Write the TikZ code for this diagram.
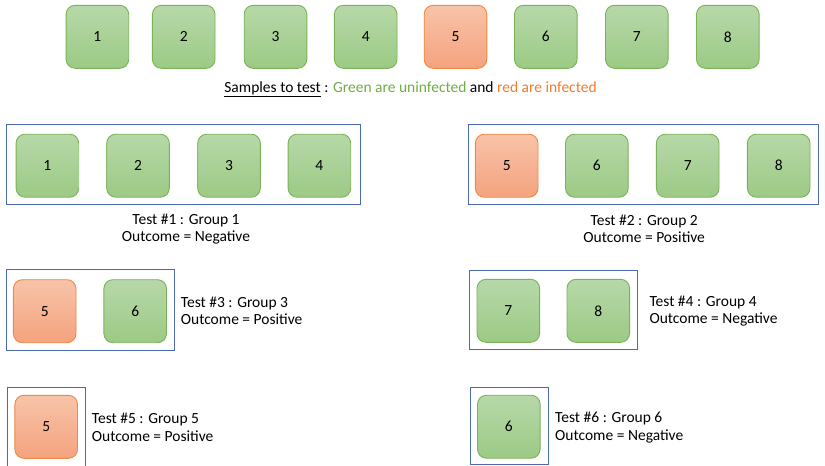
\documentclass[tikz,border=0pt]{standalone}
\usepackage{fontspec}
\setmainfont{Carlito}
\usetikzlibrary{shapes.misc}
\definecolor{gtop}{HTML}{B7D8A9}
\definecolor{gbot}{HTML}{9CCA85}
\definecolor{gline}{HTML}{7CB257}
\definecolor{otop}{HTML}{F8C3A9}
\definecolor{obot}{HTML}{F4A37E}
\definecolor{oline}{HTML}{EE8843}
\definecolor{gtext}{HTML}{70AD47}
\definecolor{otext}{HTML}{ED7D31}
\definecolor{grpline}{HTML}{4A6BB3}
\tikzset{
  sample/.style={rounded corners=9pt, minimum width=62.6pt, minimum height=63pt,
    inner sep=0pt, line width=0.9pt, font=\fontsize{15.5}{17.6}\selectfont},
  gbox/.style={sample, draw=gline, top color=gtop, bottom color=gbot},
  obox/.style={sample, draw=oline, top color=otop, bottom color=obot},
  grp/.style={draw=grpline, line width=1pt},
  lbl/.style={font=\fontsize{15.5}{17.6}\selectfont, inner sep=0pt},
}
\begin{document}
\begin{tikzpicture}[x=1pt,y=-1pt]
\useasboundingbox (0,0) rectangle (825,466);
\clip (0,0) rectangle (825,466);
\fill[white] (0,0) rectangle (825,466);
% top row
\node[gbox] (s1) at (97.4,36.8) {1};
\node[gbox] (s2) at (183.7,36.8) {2};
\node[gbox] (s3) at (275.5,36.8) {3};
\node[gbox] (s4) at (365.7,36.8) {4};
\node[obox] (s5) at (455.5,36.8) {5};
\node[gbox] (s6) at (545.8,36.8) {6};
\node[gbox] (s7) at (636.8,36.8) {7};
\node[gbox] (s8) at (727.8,36.8) {8};
\node[lbl] (cap) at (410.5,89) {\underline{Samples to test} : \textcolor{gtext}{Green are uninfected} and \textcolor{otext}{red are infected}};
% group 1
\draw[grp] (6.5,124.5) rectangle (360.5,204.5);
\node[gbox] (a1) at (47.4,165.7) {1};
\node[gbox] (a2) at (138,165.7) {2};
\node[gbox] (a3) at (229,165.7) {3};
\node[gbox] (a4) at (319.4,165.7) {4};
\node[lbl, align=center] (l1) at (186,229) {Test \#1 : Group 1\\Outcome = Negative};
% group 2
\draw[grp] (468.5,124.5) rectangle (818.5,204.5);
\node[obox] (b5) at (506.7,165.7) {5};
\node[gbox] (b6) at (596.8,165.7) {6};
\node[gbox] (b7) at (687.7,165.7) {7};
\node[gbox] (b8) at (778.7,165.7) {8};
\node[lbl, align=center] (l2) at (644.2,229) {Test \#2 : Group 2\\Outcome = Positive};
% group 3
\draw[grp] (6.5,269.5) rectangle (174.5,350.5);
\node[obox] (c5) at (44.7,311.2) {5};
\node[gbox] (c6) at (135.2,311.2) {6};
\node[lbl, align=left, anchor=west] (l3) at (180.7,311) {Test \#3 : Group 3\\Outcome = Positive};
% group 4
\draw[grp] (469.5,270.5) rectangle (637.5,349.5);
\node[gbox] (d7) at (508.3,310.8) {7};
\node[gbox] (d8) at (598.3,310.8) {8};
\node[lbl, align=left, anchor=west] (l4) at (649.3,311) {Test \#4 : Group 4\\Outcome = Negative};
% group 5
\draw[grp] (7.5,387.5) rectangle (85.5,475);
\node[obox] (e5) at (46.2,426.8) {5};
\node[lbl, align=left, anchor=west] (l5) at (91.7,427.5) {Test \#5 : Group 5\\Outcome = Positive};
% group 6
\draw[grp] (470.5,387.5) rectangle (548.5,464.5);
\node[gbox] (f6) at (508.8,426.7) {6};
\node[lbl, align=left, anchor=west] (l6) at (555,427.5) {Test \#6 : Group 6\\Outcome = Negative};
\end{tikzpicture}
\end{document}
